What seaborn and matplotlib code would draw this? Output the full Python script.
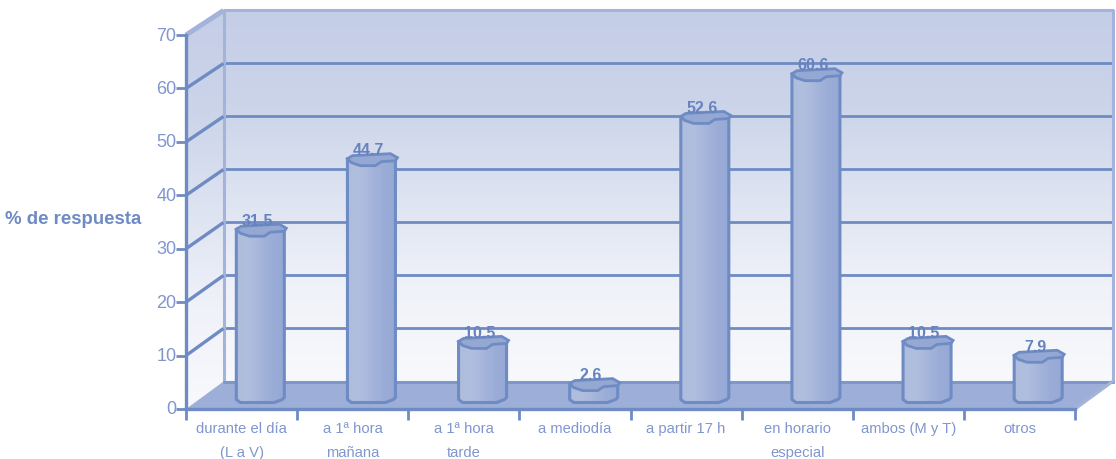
import numpy as np
import matplotlib
matplotlib.use("Agg")
import matplotlib.pyplot as plt
import matplotlib.transforms as mtransforms
from matplotlib.colors import LinearSegmentedColormap
from matplotlib.patches import Polygon
import seaborn as sns

categories = ["durante el día\n(L a V)", "a 1ª hora\nmañana", "a 1ª hora\ntarde", "a mediodía",
              "a partir 17 h", "en horario\nespecial", "ambos (M y T)", "otros"]
values = [31.5, 44.7, 10.5, 2.6, 52.6, 60.6, 10.5, 7.9]
y_ticks = [0, 10, 20, 30, 40, 50, 60, 70]

LINE = "#6E8BC4"
EDGE_LIGHT = "#A3B3DA"
TEXT = "#7F96CE"
FLOOR = "#9DAED8"
CAP = "#95A8D4"

sns.set_theme(style="white")
plt.rcParams["font.family"] = ["Liberation Sans", "DejaVu Sans"]

W, H = 1116, 460
fig = plt.figure(figsize=(W / 100, H / 100), dpi=100, facecolor="white")
ax = fig.add_axes([186 / W, (H - 410) / H, (1075 - 186) / W, (410 - 36) / H])

sns.barplot(x=categories, y=values, order=categories, width=0.43, color=CAP,
            saturation=1, ax=ax, zorder=3, linewidth=0)
ax.set_xlim(-0.5, 7.5)
ax.set_ylim(0, 70)

# pixel sizes of one data unit, used for the oblique depth of the box
px_x = (1075 - 186) / 8
px_y = (410 - 36) / 70
depth_x = 37.5 / px_x
depth_y = 27.5 / px_y
back_scale = 0.992  # the rear wall is very slightly shorter than the front plane
back = mtransforms.Affine2D().scale(1, back_scale).translate(depth_x, depth_y) + ax.transData
mid = mtransforms.Affine2D().translate(depth_x / 2, 10.5 / px_y) + ax.transData
x0, x1 = -0.5, 7.5
y_top = y_ticks[-1]


def back_y(t):
    return t * back_scale + depth_y


wall_cmap = LinearSegmentedColormap.from_list("wall", ["#C5CEE7", "#CBD4E9", "#DDE3F1", "#F0F2F9", "#F8F9FC"])
bar_cmap = LinearSegmentedColormap.from_list("body", ["#AEBCDD", "#B1BFDF", "#A6B6DB", "#9BADD7", "#96A9D5"])
vertical = np.linspace(0, 1, 128).reshape(-1, 1)
horizontal = np.linspace(0, 1, 64).reshape(1, -1)


def gradient(data, cmap, extent, clip, transform, zorder):
    im = ax.imshow(data, cmap=cmap, extent=extent, aspect="auto", origin="upper",
                   interpolation="bilinear", transform=transform, zorder=zorder)
    clip.set_transform(transform)
    im.set_clip_box(fig.bbox)
    im.set_clip_path(clip)
    return im


# back wall and side wall
gradient(vertical, wall_cmap, (x0, x1, 0, y_top), Polygon([(x0, 0), (x1, 0), (x1, y_top), (x0, y_top)]),
         back, 0.5)
side_pts = [(x0, 0), (x0 + depth_x, depth_y), (x0 + depth_x, back_y(y_top)), (x0, y_top)]
gradient(vertical, wall_cmap, (x0, x0 + depth_x, 0, back_y(y_top)), Polygon(side_pts), ax.transData, 0.5)

# gridlines on the back wall and across the side wall
for t in y_ticks[1:-1]:
    ax.plot([x0, x1], [t, t], color=LINE, lw=2.0, transform=back, clip_on=False, zorder=1,
            solid_capstyle="butt")
    ax.plot([x0, x0 + depth_x], [t, back_y(t)], color=LINE, lw=2.4, clip_on=False, zorder=1.2,
            solid_capstyle="butt")

# wall borders
ax.plot([x0, x0, x1, x1], [0, y_top, y_top, 0], color=EDGE_LIGHT, lw=2.2, transform=back, clip_on=False, zorder=1.1)
ax.plot([x0, x0 + depth_x], [y_top, back_y(y_top)], color=EDGE_LIGHT, lw=3.6, clip_on=False, zorder=1.2,
        solid_capstyle="butt")

# floor
ax.add_patch(Polygon([(x0, 0), (x1, 0), (x1 + depth_x, depth_y), (x0 + depth_x, depth_y)],
                     facecolor=FLOOR, edgecolor="none", clip_on=False, zorder=1.5))
ax.plot([x0, x1], [0, 0], color="#7D97CA", lw=2.2, transform=back, clip_on=False, zorder=1.6)
ax.plot([x1, x1 + depth_x], [0, depth_y], color=EDGE_LIGHT, lw=2.2, clip_on=False, zorder=1.6)

# outline of a bar's end, in pixels around its centre
cap_top_shape = [(-24, 1), (-19, 4), (19, 6), (26, 2), (24, -1), (10, -2), (4, -6), (-11, -6), (-20, -3)]
base_front = [(-24, 1), (-24, -1), (-20, -4), (14, -4), (22, -1), (24, 1)]


def shape_at(xc, yc, shape):
    return [(xc + a / px_x, yc + b / px_y) for a, b in shape]


for bar, v in zip(ax.patches, values):
    xc = bar.get_x() + bar.get_width() / 2
    bar.set_transform(mid)
    bar.set_clip_on(False)
    body = shape_at(xc, 0, base_front) + shape_at(xc, v, [(24, 1), (-24, 1)])
    gradient(horizontal, bar_cmap, (xc - 24 / px_x, xc + 24 / px_x, -5 / px_y, v + 2 / px_y),
             Polygon(body), mid, 3.1)
    ax.add_patch(Polygon(body, closed=True, facecolor="none", edgecolor=LINE, lw=2.2, transform=mid,
                         clip_on=False, zorder=3.2, joinstyle="round"))
    ax.add_patch(Polygon(shape_at(xc, v, cap_top_shape), closed=True, facecolor=CAP, edgecolor=LINE, lw=2.0,
                         transform=mid, clip_on=False, zorder=3.3))
    ax.annotate(f"{v}", xy=(xc, v), xycoords=mid, xytext=(-3, 10), textcoords="offset pixels",
                ha="center", va="center", fontsize=11.5, fontweight="bold", color="#6783BE", zorder=6,
                annotation_clip=False)

# front axes
for side in ("top", "right"):
    ax.spines[side].set_visible(False)
for side in ("left", "bottom"):
    ax.spines[side].set_visible(True)
    ax.spines[side].set_color(LINE)
    ax.spines[side].set_linewidth(2.4)
    ax.spines[side].set_zorder(5)

ax.set_yticks(y_ticks)
ax.set_yticklabels([str(t) for t in y_ticks])
ax.tick_params(axis="y", length=7, width=2, color=LINE, labelcolor=TEXT, labelsize=13, pad=0,
               left=True)
nudge_up = mtransforms.ScaledTranslation(0, 2 / 100, fig.dpi_scale_trans)
for label in ax.get_yticklabels():
    label.set_transform(label.get_transform() + nudge_up)
ax.set_xticks(range(len(categories)))
ax.set_xticklabels(categories, linespacing=1.9)
ax.set_xticks([i - 0.5 for i in range(len(categories) + 1)], minor=True)
ax.tick_params(axis="x", which="major", length=0, labelcolor=TEXT, labelsize=10.6, pad=9)
ax.tick_params(axis="x", which="minor", length=8, width=2, color=LINE, bottom=True)
ax.set_xlabel("")
ax.grid(False)
ax.patch.set_visible(False)
ax.set_ylabel("% de respuesta", rotation=0, fontsize=13.4, fontweight="bold", color=LINE,
              ha="center", va="center")
ax.yaxis.set_label_coords((73 - 186) / (1075 - 186), (410 - 220) / (410 - 36))

fig.savefig("out.png", dpi=100, facecolor="white")
